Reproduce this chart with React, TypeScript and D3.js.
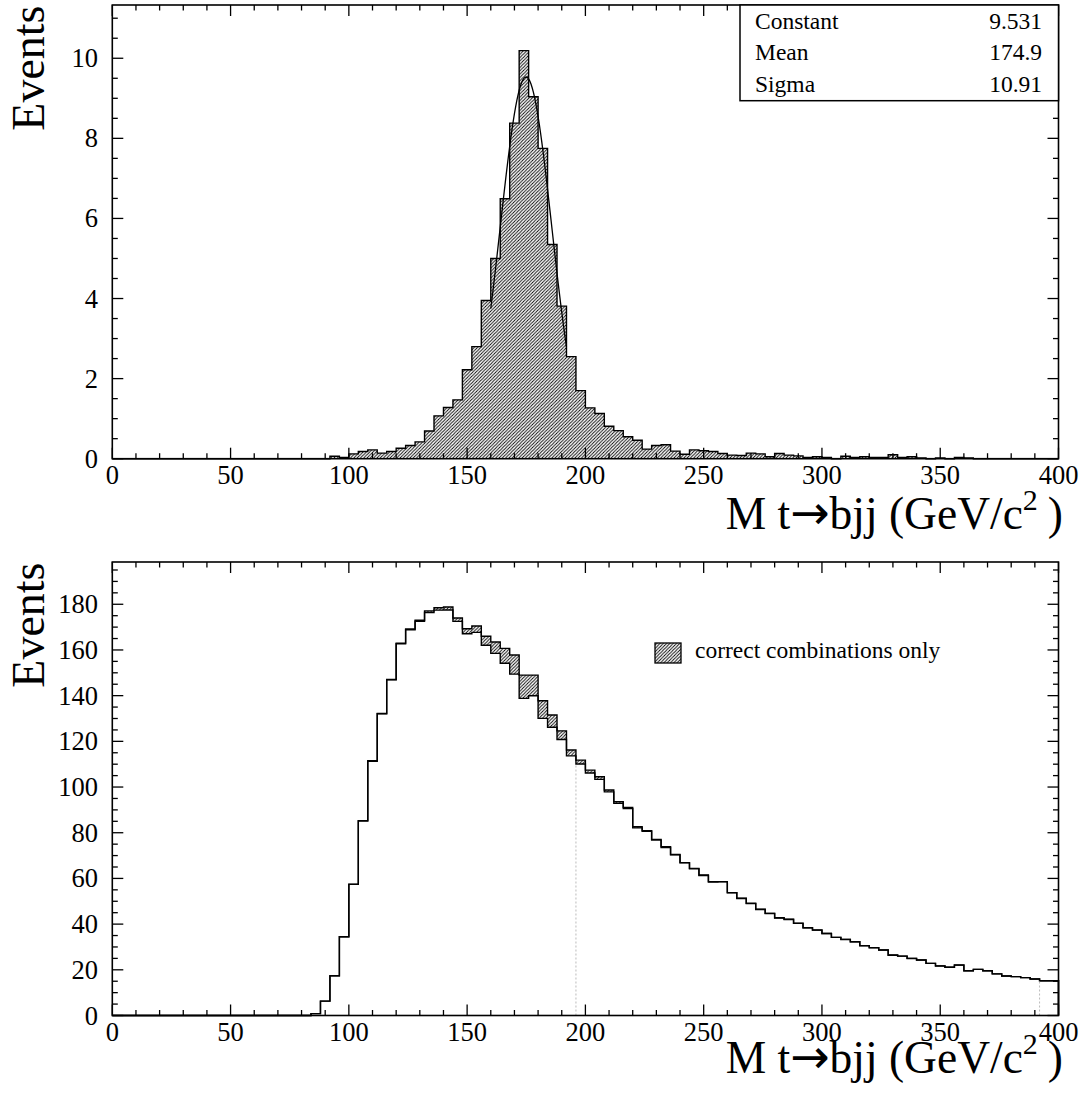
import React from 'react';
import * as d3 from 'd3';

// ---------------- data ----------------
const BIN_WIDTH = 4;
const X_DOMAIN: [number, number] = [0, 400];

// top panel: correct combinations only (also the hatched band of the bottom panel)
const correctCombinations = [
  0, 0, 0, 0, 0, 0, 0, 0, 0, 0,
  0, 0, 0, 0, 0, 0, 0, 0, 0, 0,
  0, 0, 0, 0.06, 0.03, 0.12, 0.18, 0.22, 0.14, 0.18,
  0.26, 0.33, 0.42, 0.69, 1.07, 1.28, 1.47, 2.22, 2.80, 3.95,
  5.00, 6.49, 8.38, 10.19, 9.04, 7.75, 5.35, 3.81, 2.55, 1.70,
  1.27, 1.13, 0.81, 0.70, 0.55, 0.46, 0.24, 0.33, 0.35, 0.19,
  0.11, 0.22, 0.20, 0.18, 0.13, 0.09, 0.08, 0.14, 0.12, 0.05,
  0.13, 0.09, 0.07, 0.03, 0.05, 0.03, 0, 0.06, 0.03, 0.05,
  0.03, 0.03, 0.10, 0.03, 0.05, 0.02, 0, 0.02, 0, 0.03,
  0.02, 0, 0, 0, 0, 0, 0, 0, 0, 0,
];

// bottom panel: all combinations
const allCombinations = [
  0, 0, 0, 0, 0, 0, 0, 0, 0, 0,
  0, 0, 0, 0, 0, 0, 0, 0, 0, 0,
  0, 0.8, 6.3, 17.4, 34.5, 57.5, 85.3, 111.5, 132.2, 147.1,
  163.0, 169.2, 173.0, 177.1, 178.5, 178.8, 174.0, 169.3, 170.5, 166.0,
  163.5, 160.7, 157.8, 149.0, 149.0, 137.8, 131.5, 124.6, 116.2, 111.8,
  107.4, 104.5, 98.7, 93.6, 91.1, 82.6, 80.9, 77.1, 73.9, 70.5,
  66.9, 64.4, 61.5, 58.6, 58.6, 53.8, 51.3, 49.1, 46.5, 44.7,
  42.8, 42.1, 40.4, 38.4, 37.4, 35.9, 34.2, 33.3, 32.3, 30.6,
  29.7, 28.7, 26.5, 26.0, 25.0, 24.3, 22.8, 21.7, 21.1, 22.1,
  19.6, 20.2, 19.6, 18.2, 17.3, 17.0, 16.6, 16.0, 15.2, 15.2,
];

const FIT_CONSTANT = 9.531;
const FIT_MEAN = 174.9;
const FIT_SIGMA = 10.91;
const FIT_RANGE: [number, number] = [160, 192];

const statsLabels = ['Constant', 'Mean', 'Sigma'];
const statsValues = ['9.531', '174.9', '10.91'];

const xTicks = [0, 50, 100, 150, 200, 250, 300, 350, 400];
const topYTicks = [0, 2, 4, 6, 8, 10];
const bottomYTicks = [0, 20, 40, 60, 80, 100, 120, 140, 160, 180];
const dottedEdges = [196, 392];

const legendLabel = 'correct combinations only';
const yTitle = 'Events';

// ---------------- layout ----------------
const W = 1086;
const H = 1104;
const LEFT = 112.3;
const RIGHT = 1058.5;
const FONT = '"Liberation Serif", "Times New Roman", Times, serif';

function stepPath(values: number[], x: d3.ScaleLinear<number, number>, y: d3.ScaleLinear<number, number>) {
  const p = d3.path();
  p.moveTo(x(X_DOMAIN[0]), y(0));
  values.forEach((v, i) => {
    const x0 = X_DOMAIN[0] + i * BIN_WIDTH;
    p.lineTo(x(x0), y(v));
    p.lineTo(x(x0 + BIN_WIDTH), y(v));
  });
  p.lineTo(x(X_DOMAIN[1]), y(0));
  return p.toString();
}

function Axes({ x, y, yTicks, yMinorStep, top, bottom }: any) {
  const xMinor = d3.range(X_DOMAIN[0], X_DOMAIN[1] + 0.001, 10).filter((t) => !xTicks.includes(t));
  const yMax = y.domain()[1];
  const yMinor = d3.range(0, yMax, yMinorStep).filter((t) => !yTicks.some((m: number) => Math.abs(m - t) < 1e-6));
  const MAJ = 11;
  const MIN = 5.5;
  return (
    <g stroke="#000" strokeWidth={1.3}>
      {xTicks.map((t) => (
        <g key={'xM' + t}>
          <line x1={x(t)} x2={x(t)} y1={bottom} y2={bottom - MAJ} />
          <line x1={x(t)} x2={x(t)} y1={top} y2={top + MAJ} />
        </g>
      ))}
      {xMinor.map((t) => (
        <g key={'xm' + t}>
          <line x1={x(t)} x2={x(t)} y1={bottom} y2={bottom - MIN} />
          <line x1={x(t)} x2={x(t)} y1={top} y2={top + MIN} />
        </g>
      ))}
      {yTicks.map((t: number) => (
        <g key={'yM' + t}>
          <line x1={LEFT} x2={LEFT + MAJ} y1={y(t)} y2={y(t)} />
          <line x1={RIGHT} x2={RIGHT - MAJ} y1={y(t)} y2={y(t)} />
        </g>
      ))}
      {yMinor.map((t: number) => (
        <g key={'ym' + t}>
          <line x1={LEFT} x2={LEFT + MIN} y1={y(t)} y2={y(t)} />
          <line x1={RIGHT} x2={RIGHT - MIN} y1={y(t)} y2={y(t)} />
        </g>
      ))}
      <rect x={LEFT} y={top} width={RIGHT - LEFT} height={bottom - top} fill="none" strokeWidth={1.6} />
    </g>
  );
}

function Labels({ x, y, yTicks, bottom, top, titleBaseline }: any) {
  return (
    <g fontFamily={FONT} fontSize={26.5} fill="#000">
      {xTicks.map((t) => (
        <text key={'xl' + t} x={x(t)} y={bottom + 25.5} textAnchor="middle">{t}</text>
      ))}
      {yTicks.map((t: number) => (
        <text key={'yl' + t} x={98} y={y(t)} dy="0.34em" textAnchor="end">{t}</text>
      ))}
      <text transform={`translate(43.5, ${top + 0.5}) rotate(-90)`} textAnchor="end" fontSize={46}>{yTitle}</text>
      <text x={1063} y={titleBaseline} textAnchor="end" fontSize={45.5}>
        M t<tspan fontFamily='"DejaVu Sans", sans-serif' fontSize={47}>→</tspan>bjj (GeV/c<tspan dy={-19} fontSize={30}>2</tspan><tspan dy={19} dx={10}>)</tspan>
      </text>
    </g>
  );
}

export default function App() {
  // top panel
  const tTop = 5, tBot = 458.7;
  const x = d3.scaleLinear().domain(X_DOMAIN).range([LEFT, RIGHT]);
  const yT = d3.scaleLinear().domain([0, 11.33]).range([tBot, tTop]);

  // bottom panel
  const bTop = 562, bBot = 1015.5;
  const yB = d3.scaleLinear().domain([0, 198.5]).range([bBot, bTop]);

  const wrongCombinations = allCombinations.map((v, i) => Math.max(0, v - correctCombinations[i]));

  const fitPts = d3.range(FIT_RANGE[0], FIT_RANGE[1] + 0.001, 0.5).map((m) => [
    m,
    FIT_CONSTANT * Math.exp(-0.5 * ((m - FIT_MEAN) / FIT_SIGMA) ** 2),
  ]);
  const fitLine = d3.line<number[]>().x((d) => x(d[0])).y((d) => yT(d[1]));

  const topPath = stepPath(correctCombinations, x, yT);
  const allPath = stepPath(allCombinations, x, yB);
  const wrongPath = stepPath(wrongCombinations, x, yB);

  return (
    <div style={{ position: 'absolute', left: 0, top: 0 }}>
      <svg width={W} height={H} viewBox={`0 0 ${W} ${H}`} style={{ display: 'block', background: '#fff' }}>
        <defs>
          <pattern id="hatch" patternUnits="userSpaceOnUse" width={3.3} height={3.3}>
            <path d="M-1,1 L1,-1 M0,3.3 L3.3,0 M2.3,4.3 L4.3,2.3" stroke="#000" strokeWidth={0.88} />
          </pattern>
        </defs>
        <rect width={W} height={H} fill="#fff" />

        {/* top panel */}
        <path d={topPath + 'Z'} fill="url(#hatch)" stroke="none" />
        <path d={topPath} fill="none" stroke="#000" strokeWidth={1.4} />
        <path d={fitLine(fitPts) || ''} fill="none" stroke="#000" strokeWidth={1.3} />
        <Axes x={x} y={yT} yTicks={topYTicks} yMinorStep={0.5} top={tTop} bottom={tBot} />
        <Labels x={x} y={yT} yTicks={topYTicks} bottom={tBot} top={tTop} titleBaseline={528.5} />
        <g fontFamily={FONT} fontSize={23.5}>
          <rect x={740} y={tTop} width={RIGHT - 740} height={100.7 - tTop} fill="#fff" stroke="#000" strokeWidth={1.5} />
          {statsLabels.map((s, i) => (
            <g key={s}>
              <text x={755} y={29 + i * 31.3}>{s}</text>
              <text x={1042} y={29 + i * 31.3} textAnchor="end">{statsValues[i]}</text>
            </g>
          ))}
        </g>

        {/* bottom panel */}
        <path d={allPath + 'Z'} fill="url(#hatch)" stroke="none" />
        <path d={wrongPath + 'Z'} fill="#fff" stroke="none" />
        <path d={wrongPath} fill="none" stroke="#000" strokeWidth={1.4} />
        <path d={allPath} fill="none" stroke="#000" strokeWidth={1.4} />
        {dottedEdges.map((e) => (
          <line key={'d' + e} x1={x(e)} x2={x(e)} y1={bBot} y2={yB(wrongCombinations[Math.round(e / BIN_WIDTH)])}
            stroke="#bbb" strokeWidth={1} strokeDasharray="2,2" />
        ))}
        <Axes x={x} y={yB} yTicks={bottomYTicks} yMinorStep={5} top={bTop} bottom={bBot} />
        <Labels x={x} y={yB} yTicks={bottomYTicks} bottom={bBot} top={bTop} titleBaseline={1073} />
        <g fontFamily={FONT} fontSize={23.5}>
          <rect x={655} y={643} width={26} height={20} fill="url(#hatch)" stroke="#000" strokeWidth={1.3} />
          <text x={695} y={657.5}>{legendLabel}</text>
        </g>
      </svg>
    </div>
  );
}
